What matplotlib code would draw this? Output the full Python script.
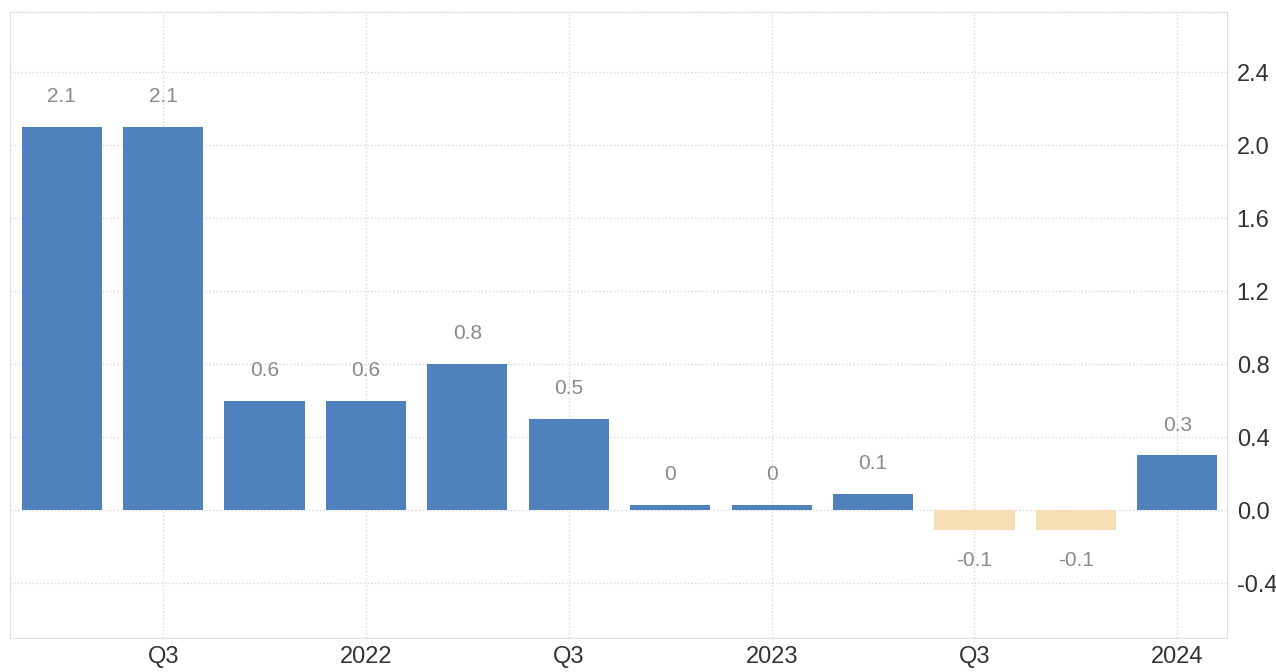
import matplotlib.pyplot as plt

# quarterly values, Q2 2021 .. Q1 2024
quarters = ['2021Q2', '2021Q3', '2021Q4', '2022Q1', '2022Q2', '2022Q3',
            '2022Q4', '2023Q1', '2023Q2', '2023Q3', '2023Q4', '2024Q1']
values = [2.1, 2.1, 0.6, 0.6, 0.8, 0.5, 0.03, 0.03, 0.09, -0.11, -0.11, 0.3]
labels = ['2.1', '2.1', '0.6', '0.6', '0.8', '0.5', '0', '0', '0.1', '-0.1', '-0.1', '0.3']
tick_pos = [1, 3, 5, 7, 9, 11]
tick_labels = ['Q3', '2022', 'Q3', '2023', 'Q3', '2024']
y_ticks = [-0.4, 0.0, 0.4, 0.8, 1.2, 1.6, 2.0, 2.4]

plt.rcParams['font.family'] = ['Liberation Sans', 'DejaVu Sans']

fig = plt.figure(figsize=(12.76, 6.72), dpi=100)
ax = fig.add_axes([10 / 1276, 34 / 672, 1217 / 1276, 626 / 672])

x = list(range(len(values)))
colors = ['#4f81bd' if v >= 0 else '#f5deb3' for v in values]
ax.bar(x, values, width=0.79, color=colors, zorder=3)

for xi, v, lab in zip(x, values, labels):
    off = 15 if v >= 0 else -15
    ax.annotate(lab, (xi, v), xytext=(0, off), textcoords='offset points',
                ha='center', va='bottom' if v >= 0 else 'top',
                fontsize=15, color='#8a8a8a')

ax.set_xlim(-0.51, 11.49)
ax.set_ylim(-0.70, 2.73)
ax.set_xticks(tick_pos)
ax.set_xticklabels(tick_labels)
ax.set_yticks(y_ticks)
ax.set_yticklabels(['%.1f' % t for t in y_ticks])
ax.yaxis.tick_right()
ax.tick_params(length=0, labelsize=17, colors='#333333')
ax.tick_params(axis='y', pad=7)
ax.tick_params(axis='x', pad=6)

ax.grid(True, linestyle=':', color='#d8d8d8', linewidth=1, zorder=0)
for side in ['left', 'right', 'bottom']:
    ax.spines[side].set_color('#e0e0e0')
ax.spines['top'].set_color('#d8d8d8')
ax.spines['top'].set_linestyle(':')

plt.savefig('out.png', dpi=100)
